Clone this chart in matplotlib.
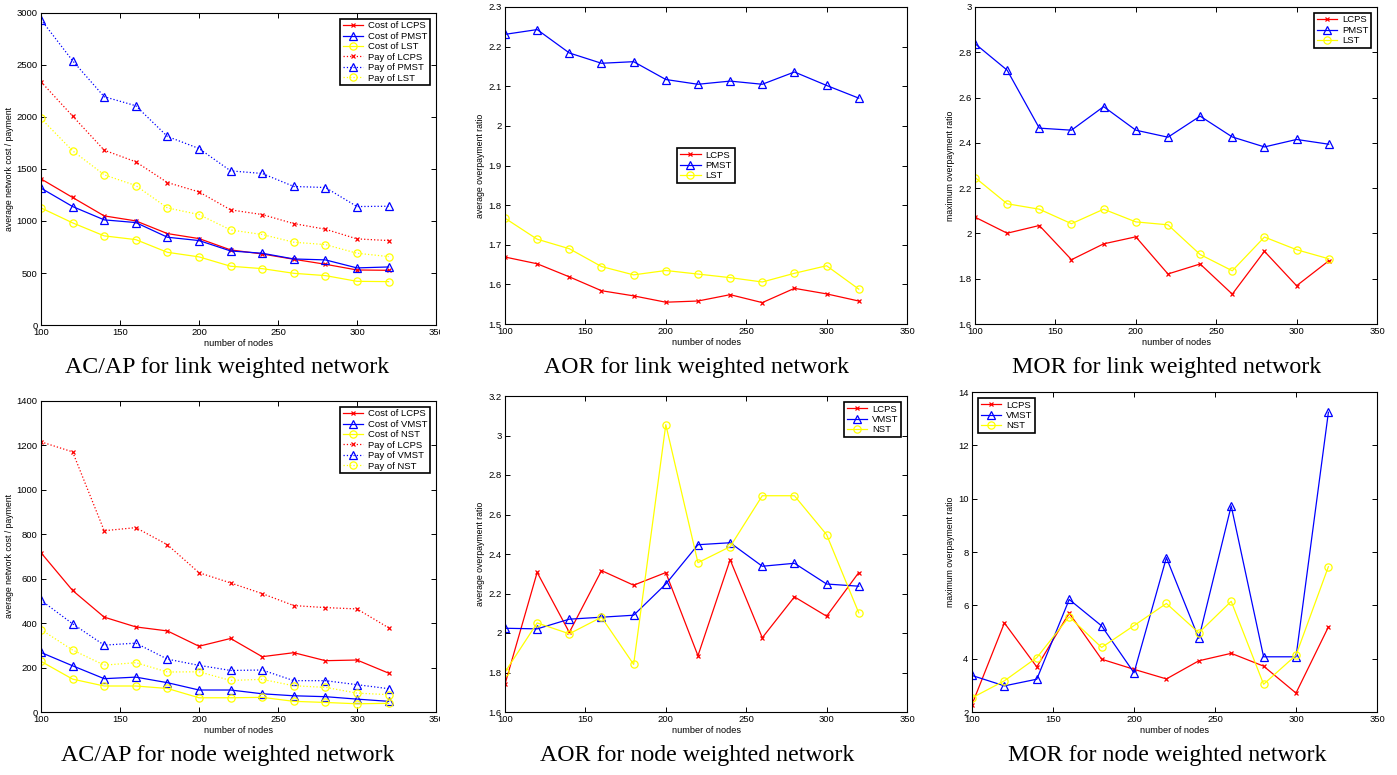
import matplotlib
matplotlib.use("Agg")
import matplotlib.pyplot as plt
from matplotlib.ticker import FuncFormatter
from matplotlib.transforms import Bbox

# ---------------- data ----------------
nodes = [100, 120, 140, 160, 180, 200, 220, 240, 260, 280, 300, 320]

# AC/AP link weighted
link_cost_lcps = [1405, 1226, 1049, 1001, 879, 831, 722, 683, 632, 584, 529, 526]
link_cost_pmst = [1316, 1139, 1011, 985, 844, 812, 712, 690, 635, 626, 549, 558]
link_cost_lst = [1126, 982, 857, 821, 699, 655, 565, 542, 497, 475, 420, 417]
link_pay_lcps = [2339, 2009, 1681, 1569, 1370, 1280, 1107, 1062, 975, 921, 828, 812]
link_pay_pmst = [2936, 2541, 2195, 2108, 1813, 1697, 1482, 1457, 1332, 1322, 1139, 1142]
link_pay_lst = [1986, 1675, 1444, 1341, 1126, 1062, 914, 870, 796, 773, 690, 658]

# AOR link weighted
link_aor_lcps = [1.669, 1.652, 1.619, 1.584, 1.571, 1.555, 1.558, 1.574, 1.554, 1.590, 1.576, 1.558]
link_aor_pmst = [2.231, 2.243, 2.184, 2.158, 2.162, 2.117, 2.105, 2.113, 2.105, 2.136, 2.102, 2.070]
link_aor_lst = [1.767, 1.714, 1.690, 1.645, 1.624, 1.635, 1.626, 1.617, 1.606, 1.628, 1.647, 1.588]

# MOR link weighted
link_mor_lcps = [2.072, 2.001, 2.035, 1.884, 1.954, 1.985, 1.821, 1.865, 1.732, 1.921, 1.769, 1.879]
link_mor_pmst = [2.838, 2.721, 2.465, 2.456, 2.560, 2.456, 2.425, 2.518, 2.426, 2.382, 2.415, 2.394]
link_mor_lst = [2.247, 2.131, 2.107, 2.043, 2.107, 2.051, 2.038, 1.907, 1.835, 1.984, 1.928, 1.888]

# AC/AP node weighted
node_cost_lcps = [717, 547, 427, 383, 365, 296, 331, 249, 267, 231, 234, 175]
node_cost_vmst = [268, 208, 150, 157, 132, 99, 99, 82, 73, 69, 58, 48]
node_cost_nst = [228, 148, 117, 117, 106, 64, 64, 66, 48, 43, 37, 39]
node_pay_lcps = [1216, 1171, 816, 830, 753, 627, 581, 533, 479, 470, 464, 379]
node_pay_vmst = [503, 397, 301, 310, 238, 210, 187, 189, 141, 141, 123, 105]
node_pay_nst = [371, 279, 211, 222, 180, 181, 142, 147, 118, 111, 85, 78]

# AOR node weighted
node_aor_lcps = [1.741, 2.307, 2.003, 2.316, 2.242, 2.306, 1.885, 2.371, 1.976, 2.183, 2.085, 2.306]
node_aor_vmst = [2.024, 2.021, 2.070, 2.080, 2.090, 2.248, 2.447, 2.457, 2.338, 2.353, 2.248, 2.237]
node_aor_nst = [1.802, 2.051, 1.996, 2.080, 1.841, 3.055, 2.356, 2.437, 2.695, 2.695, 2.498, 2.102]

# MOR node weighted
node_mor_lcps = [2.28, 5.34, 3.69, 5.71, 3.98, 3.60, 3.24, 3.92, 4.20, 3.72, 2.71, 5.19]
node_mor_vmst = [3.37, 2.98, 3.23, 6.22, 5.23, 3.47, 7.79, 4.76, 9.73, 4.07, 4.07, 13.24]
node_mor_nst = [2.53, 3.17, 4.04, 5.57, 4.42, 5.24, 6.07, 4.97, 6.15, 3.04, 4.13, 7.45]

captions = ["AC/AP for link weighted network", "AOR for link weighted network",
            "MOR for link weighted network", "AC/AP for node weighted network",
            "AOR for node weighted network", "MOR for node weighted network"]

# ---------------- layout ----------------
W, H = 1397, 775
fig = plt.figure(figsize=(W / 100, H / 100), dpi=100)
plt.rcParams['font.family'] = ['Liberation Sans', 'DejaVu Sans']

# pixel boxes: left, top, right, bottom
boxes = [(41, 13, 436, 325), (505, 7, 907, 324), (975, 7, 1377, 324),
         (41, 401, 436, 712), (505, 396, 907, 712), (972, 392, 1377, 712)]
cap_pos = [(227, 368), (697, 368), (1167, 368), (228, 756), (697, 756), (1167, 756)]

RED, BLUE, YEL = '#ff0000', '#0000ff', '#ffff00'
fmt = FuncFormatter(lambda v, p: f"{round(v, 6):g}")


def make_ax(i):
    l, t, r, b = boxes[i]
    ax = fig.add_axes([l / W, 1 - b / H, (r - l) / W, (b - t) / H])
    ax.tick_params(direction='in', length=3.5, width=0.7, top=True, right=True,
                   labelsize=6.8, pad=2.5)
    for s in ax.spines.values():
        s.set_linewidth(0.8)
    ax.set_xlim(100, 350)
    ax.set_xticks(range(100, 351, 50))
    ax.yaxis.set_major_formatter(fmt)
    ax.set_xlabel('number of nodes', fontsize=6.6, labelpad=1)
    x, y = cap_pos[i]
    fig.text(x / W, 1 - y / H, captions[i], ha='center', va='center',
             fontsize=17.2, family='Liberation Serif')
    return ax


def sline(ax, y, color, marker, label, ls='-'):
    if marker == 'x':
        ax.plot(nodes, y, ls, color=color, marker='x', markersize=3.2, mew=0.9,
                lw=0.9, label=label)
    else:
        ms = 5.8 if marker == '^' else 5.2
        ax.plot(nodes, y, ls, color=color, marker=marker, markersize=ms,
                mfc='none', mec=color, mew=0.9, lw=0.9, label=label)


def legend(ax, loc, bbox=None):
    lg = ax.legend(loc=loc, bbox_to_anchor=bbox, fontsize=6.8, fancybox=False,
                   framealpha=1, edgecolor='black', borderpad=0.3,
                   labelspacing=0.15, handlelength=2.2, handletextpad=0.5,
                   borderaxespad=0.6)
    lg.get_frame().set_linewidth(1.2)


def clip_last_xlabel(ax):
    # the original sub-figure was cropped just right of the axes
    lab = ax.xaxis.get_major_ticks()[-1].label1
    lab.set_clip_on(True)
    lab.set_clip_box(Bbox([[0, 0], [440, H]]))


# Panel 1
ax = make_ax(0)
sline(ax, link_cost_lcps, RED, 'x', 'Cost of LCPS')
sline(ax, link_cost_pmst, BLUE, '^', 'Cost of PMST')
sline(ax, link_cost_lst, YEL, 'o', 'Cost of LST')
sline(ax, link_pay_lcps, RED, 'x', 'Pay of LCPS', ':')
sline(ax, link_pay_pmst, BLUE, '^', 'Pay of PMST', ':')
sline(ax, link_pay_lst, YEL, 'o', 'Pay of LST', ':')
ax.set_ylim(0, 3000)
ax.set_yticks(range(0, 3001, 500))
ax.set_ylabel('average network cost / payment', fontsize=6.3, labelpad=2)
legend(ax, 'upper right')
clip_last_xlabel(ax)

# Panel 2
ax = make_ax(1)
sline(ax, link_aor_lcps, RED, 'x', 'LCPS')
sline(ax, link_aor_pmst, BLUE, '^', 'PMST')
sline(ax, link_aor_lst, YEL, 'o', 'LST')
ax.set_ylim(1.5, 2.3)
ax.set_yticks([1.5 + 0.1 * k for k in range(9)])
ax.set_ylabel('average overpayment ratio', fontsize=6.3, labelpad=2)
legend(ax, 'center')

# Panel 3
ax = make_ax(2)
sline(ax, link_mor_lcps, RED, 'x', 'LCPS')
sline(ax, link_mor_pmst, BLUE, '^', 'PMST')
sline(ax, link_mor_lst, YEL, 'o', 'LST')
ax.set_ylim(1.6, 3.0)
ax.set_yticks([1.6 + 0.2 * k for k in range(8)])
ax.set_ylabel('maximum overpayment ratio', fontsize=6.3, labelpad=2)
legend(ax, 'upper right')

# Panel 4
ax = make_ax(3)
sline(ax, node_cost_lcps, RED, 'x', 'Cost of LCPS')
sline(ax, node_cost_vmst, BLUE, '^', 'Cost of VMST')
sline(ax, node_cost_nst, YEL, 'o', 'Cost of NST')
sline(ax, node_pay_lcps, RED, 'x', 'Pay of LCPS', ':')
sline(ax, node_pay_vmst, BLUE, '^', 'Pay of VMST', ':')
sline(ax, node_pay_nst, YEL, 'o', 'Pay of NST', ':')
ax.set_ylim(0, 1400)
ax.set_yticks(range(0, 1401, 200))
ax.set_ylabel('average network cost / payment', fontsize=6.3, labelpad=2)
legend(ax, 'upper right')
clip_last_xlabel(ax)

# Panel 5
ax = make_ax(4)
sline(ax, node_aor_lcps, RED, 'x', 'LCPS')
sline(ax, node_aor_vmst, BLUE, '^', 'VMST')
sline(ax, node_aor_nst, YEL, 'o', 'NST')
ax.set_ylim(1.6, 3.2)
ax.set_yticks([1.6 + 0.2 * k for k in range(9)])
ax.set_ylabel('average overpayment ratio', fontsize=6.3, labelpad=2)
legend(ax, 'upper right')

# Panel 6
ax = make_ax(5)
sline(ax, node_mor_lcps, RED, 'x', 'LCPS')
sline(ax, node_mor_vmst, BLUE, '^', 'VMST')
sline(ax, node_mor_nst, YEL, 'o', 'NST')
ax.set_ylim(2, 14)
ax.set_yticks(range(2, 15, 2))
ax.set_ylabel('maximum overpayment ratio', fontsize=6.3, labelpad=2)
legend(ax, 'upper left')

fig.savefig('out.png', dpi=100)
